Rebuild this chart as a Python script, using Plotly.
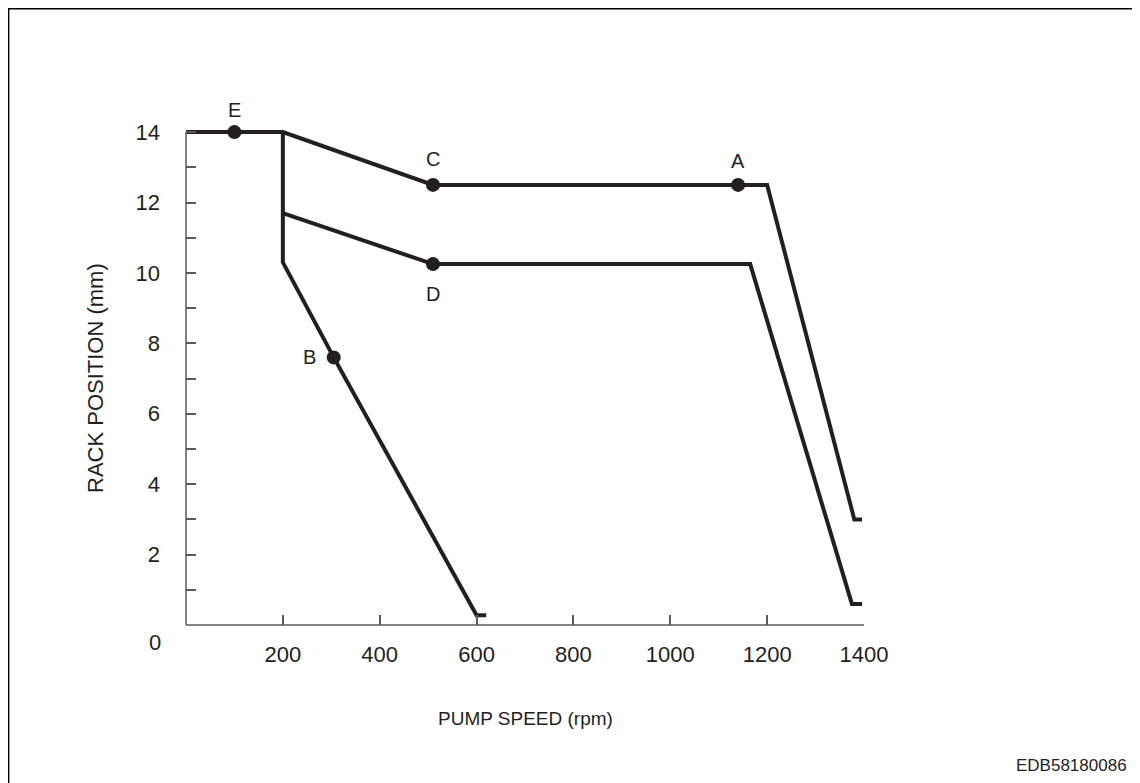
import plotly.graph_objects as go

# ---- data ----
upper_x = [0, 200, 510, 1140, 1200, 1380, 1396]
upper_y = [14, 14, 12.5, 12.5, 12.5, 3.0, 3.0]
middle_x = [200, 510, 1165, 1375, 1396]
middle_y = [11.7, 10.25, 10.25, 0.6, 0.6]
lower_x = [200, 200, 305, 600, 620]
lower_y = [14, 10.3, 7.6, 0.28, 0.28]

point_names = ["E", "C", "A", "D", "B"]
point_x = [100, 510, 1140, 510, 305]
point_y = [14, 12.5, 12.5, 10.25, 7.6]
label_dx = [0, 0, 0, 0, -24]
label_dy = [22, 26, 24, -30, 0]

x_ticks = [200, 400, 600, 800, 1000, 1200, 1400]
y_ticks = list(range(1, 15))
y_ticktext = [str(v) if v % 2 == 0 else "" for v in y_ticks]

# ---- layout geometry (page has an 8px body margin) ----
OFF = 8
W, H = 1140 - OFF, 783 - OFF
L = 186 - OFF
T = 118 - OFF
R = W - (864 - OFF)
B = H - (625 - OFF)
PW, PH = W - L - R, H - T - B
X_RANGE = [0, 1400]
Y_RANGE = [0, 14.4]

def px(xp):
    """page x pixel -> paper coordinate"""
    return (xp - OFF - L) / PW

def py(yp):
    """page y pixel -> paper coordinate"""
    return (H - B - (yp - OFF)) / PH

INK = "#231f20"
AXIS = "#5a5a5a"
FONT = "Liberation Sans, Arial, Helvetica, sans-serif"

fig = go.Figure()
for xs, ys in [(upper_x, upper_y), (middle_x, middle_y), (lower_x, lower_y)]:
    fig.add_trace(go.Scatter(x=xs, y=ys, mode="lines",
                             line=dict(color=INK, width=4), hoverinfo="skip",
                             showlegend=False))
fig.add_trace(go.Scatter(x=point_x, y=point_y, mode="markers",
                         marker=dict(color=INK, size=14), showlegend=False,
                         cliponaxis=False))

annotations = []
for n, x, y, dx, dy in zip(point_names, point_x, point_y, label_dx, label_dy):
    annotations.append(dict(x=x, y=y, xref="x", yref="y", text=n, showarrow=False,
                            xshift=dx, yshift=dy, xanchor="center", yanchor="middle",
                            font=dict(size=20, color=INK, family=FONT)))
annotations += [
    dict(x=px(525), y=py(718), xref="paper", yref="paper", text="PUMP SPEED (rpm)",
         xanchor="center", yanchor="middle",
         showarrow=False, font=dict(size=19, color=INK, family=FONT)),
    dict(x=px(95), y=py(378), xref="paper", yref="paper", text="RACK POSITION (mm)",
         xanchor="center", yanchor="middle",
         textangle=-90, showarrow=False, font=dict(size=22, color=INK, family=FONT)),
    dict(x=px(155), y=py(642), xref="paper", yref="paper", text="0",
         xanchor="center", yanchor="middle",
         showarrow=False, font=dict(size=22, color=INK, family=FONT)),
    dict(x=px(1129), y=py(765), xref="paper", yref="paper", text="EDB58180086",
         xanchor="right", yanchor="middle",
         showarrow=False, font=dict(size=17, color=INK, family=FONT)),
]

y14 = 14 / Y_RANGE[1]
shapes = [
    # frame border (extends past the right and bottom edges)
    dict(type="rect", xref="paper", yref="paper", x0=px(8.5), x1=px(1170),
         y0=py(8.5), y1=py(820), line=dict(color="black", width=1.8)),
    # axis lines
    dict(type="line", xref="paper", yref="paper", x0=0, x1=0, y0=0, y1=y14,
         line=dict(color=AXIS, width=1.5)),
    dict(type="line", xref="paper", yref="paper", x0=0, x1=1, y0=0, y1=0,
         line=dict(color=AXIS, width=1.5)),
]

fig.update_layout(
    width=W, height=H,
    margin=dict(l=L, r=R, t=T, b=B, pad=0),
    paper_bgcolor="white", plot_bgcolor="white",
    font=dict(family=FONT, color=INK),
    xaxis=dict(range=X_RANGE, showgrid=False, zeroline=False, showline=False,
               tickvals=x_ticks, ticks="inside", ticklen=10, tickwidth=1.5,
               tickcolor=AXIS, tickfont=dict(size=22, color=INK, family=FONT),
               ticklabelstandoff=14),
    yaxis=dict(range=Y_RANGE, showgrid=False, zeroline=False, showline=False,
               tickvals=y_ticks, ticktext=y_ticktext, ticks="inside", ticklen=10,
               tickwidth=1.5, tickcolor=AXIS,
               tickfont=dict(size=22, color=INK, family=FONT),
               ticklabelstandoff=25),
    annotations=annotations,
    shapes=shapes,
)

fig.write_html("out.html")
